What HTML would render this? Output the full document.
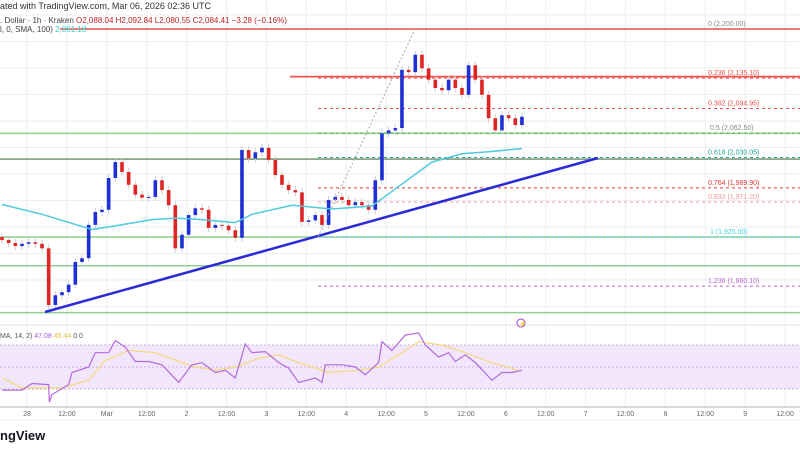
<!DOCTYPE html>
<html><head><meta charset="utf-8">
<style>
html,body{margin:0;padding:0;background:#fff;width:800px;height:450px;overflow:hidden}
svg{display:block;font-family:"Liberation Sans",sans-serif}
</style></head><body>
<svg id="chart" width="800" height="450" viewBox="0 0 800 450">
<g id="grid"></g>
<g id="levels"></g>
<g id="candles"></g>
<g id="overlay"></g>
<g id="rsi"></g>
<g id="axis"></g>
<text x="0" y="9" font-size="9" fill="#333">ated with TradingView.com, Mar 06, 2026 02:36 UTC</text>
<text x="0" y="23" font-size="8" fill="#444">. Dollar · 1h · Kraken  <tspan fill="#b22">O2,088.04  H2,092.84  L2,080.55  C2,084.41  −3.28 (−0.16%)</tspan></text>
<text x="0" y="32" font-size="8" fill="#444">l, 0, SMA, 100)  <tspan fill="#3cc">2,061.18</tspan></text>
<text x="0" y="338" font-size="7" fill="#555">MA, 14, 2)  <tspan fill="#a05ad0">47.08</tspan>  <tspan fill="#e8c040">45.44</tspan>  0  0</text>
<text x="0" y="440" font-size="13" font-weight="bold" fill="#131722">ngView</text>
<g><circle cx="521" cy="323" r="4" fill="none" stroke="#9b3fd0" stroke-width="1"/><text x="519" y="326" font-size="6" fill="#9b3fd0">⚡</text></g>
</svg>
<script>
// ---- data ----
const closes=[1921,1917,1913,1916,1918,1916,1910,1835,1848,1852,1862,1892,1897,1941,1958,1961,2003,2024,2011,1994,1981,1977,1978,2000,1987,1967,1910,1928,1954,1963,1961,1937,1941,1940,1934,1924,2040,2029,2037,2043,2027,2007,1994,1987,1984,1945,1947,1954,1941,1974,1978,1974,1967,1971,1967,1961,2000,2062,2066,2069,2146,2143,2166,2148,2133,2122,2119,2133,2122,2113,2152,2133,2113,2082,2066,2086,2082,2073,2084];
const firstOpen=1925;
const smaHours=[0,12,27,33,45,52,60,70,75,87,99,111,120,129,138,147,156];
const smaValues=[1968,1955,1935,1939,1948,1950,1948,1944,1955,1967,1962,1966,1995,2024,2035,2038,2042];
const rsiHours=[0,6,9,14,14.2,15,20,21,26,28,32,34,37,40,44,48,53,57,60,64,67,70,73,75,79,83,86,89,94,96,97,102,106,109,113,114,117,121,125,127,131,134,136,139,142,147,150,153,156];
const rsiValues=[29,29,35,34,18,25,34,45,50,63,63,74,68,55,55,52,36,52,54,45,47,40,71,63,64,54,49,36,40,36,52,52,50,43,54,73,65,79,81,70,59,63,55,61,54,38,45,45,47];
const rsiMaHours=[0,6,18,26,31,38,46,54,58,64,70,77,83,89,98,107,113,119,125,132,138,146,155];
const rsiMaValues=[40,31,31,38,56,65,63,54,50,47,50,58,61,54,45,47,50,61,73,70,64,55,47];
const fibRatios=[0,0.236,0.382,0.5,0.618,0.764,0.832,1,1.236];
const fibLabels=["0 (2,200.00)","0.236 (2,135.10)","0.382 (2,094.95)","0.5 (2,062.50)","0.618 (2,030.05)","0.764 (1,989.90)","0.832 (1,971.20)","1 (1,925.00)","1.236 (1,860.10)"];
const supportPrices=[2062,2028,1925,1887,1825];
const dayLabels=["28","12:00","Mar","12:00","2","12:00","3","12:00","4","12:00","5","12:00","6","12:00","7","12:00","8","12:00","9","12:00"];
// ---- scales ----
const fibHigh=2200, fibLow=1925;
const py=p=>29+(fibHigh-p)*208/(fibHigh-fibLow);
const hx=h=>2+h*3.333;
const ry=v=>367-(v-50)*1.1;
const NS="http://www.w3.org/2000/svg";
function mk(parent,tag,attrs){const e=document.createElementNS(NS,tag);for(const k in attrs)e.setAttribute(k,attrs[k]);parent.appendChild(e);return e;}
const grid=document.getElementById('grid');
for(let i=0;i<20;i++){const x=27+i*39.9;
 const l=mk(grid,'line',{x1:x,y1:0,x2:x,y2:407,stroke:'#eceef2','stroke-width':1});
 }
for(let y=15;y<325;y+=26.5){const l=mk(grid,'line',{x1:0,y1:y,x2:800,y2:y,stroke:'#eceef2','stroke-width':1});
 }
const lv=document.getElementById('levels');
// red resistance lines
let r1=mk(lv,'line',{x1:60,y1:py(2200),x2:800,y2:py(2200),stroke:'#e0302a','stroke-width':1.3});

let r2=mk(lv,'line',{x1:290,y1:py(2137),x2:800,y2:py(2137),stroke:'#ef5350','stroke-width':1.8});

supportPrices.forEach((p,i)=>{const l=mk(lv,'line',{x1:0,y1:py(p),x2:800,y2:py(p),stroke:i==1?'#6a8a6a':'#8fcf8f','stroke-width':1.4});
 });
const fibColors=['#999','#ef5350','#ef5350','#4caf50','#26a69a','#e53935','#ef9a9a','#4dd0e1','#ba68c8'];
fibRatios.forEach((r,i)=>{const y=29+r*208;
 if(i>0){const l=mk(lv,'line',{x1:318,y1:y,x2:800,y2:y,stroke:fibColors[i],'stroke-width':1,'stroke-dasharray':'3,3'});
 }
 const t=mk(lv,'text',{x:i==4?708:(i==7||i==3?710:708),y:y-3,'font-size':7,fill:i==0||i==3?'#888':fibColors[i]});
 t.textContent=fibLabels[i];
 });
// candles
const cg=document.getElementById('candles');
let prev=firstOpen;
closes.forEach((c,i)=>{const x=hx(i*2),o=prev,up=c>=o,col=up?'#1e2fd6':'#e02424';
 const top=py(Math.max(o,c)),bot=py(Math.min(o,c));
 const w=mk(cg,'line',{x1:x,y1:top-4,x2:x,y2:bot+4,stroke:'#c9ccd4','stroke-width':1});
 
 const r=mk(cg,'rect',{x:x-1.8,y:top,width:3.6,height:Math.max(1,bot-top),fill:col});
 
 prev=c;});
// overlays
const ov=document.getElementById('overlay');
const sma=mk(ov,'polyline',{points:smaHours.map((h,i)=>hx(h)+','+py(smaValues[i])).join(' '),fill:'none',stroke:'#4fc9e0','stroke-width':1.5});

const tl=mk(ov,'line',{x1:45,y1:312,x2:598,y2:158,stroke:'#2a2ad8','stroke-width':2.5});

const fl=mk(ov,'line',{x1:318,y1:py(fibLow),x2:415,y2:py(fibHigh),stroke:'#aaa','stroke-width':1,'stroke-dasharray':'2,2'});

// RSI panel
const rg=document.getElementById('rsi');
const sep=mk(rg,'line',{x1:0,y1:325,x2:800,y2:325,stroke:'#e0e3eb','stroke-width':1});

const band=mk(rg,'rect',{x:0,y:ry(70),width:800,height:ry(30)-ry(70),fill:'#f2e6fd'});

[70,50,30].forEach(v=>{const l=mk(rg,'line',{x1:0,y1:ry(v),x2:800,y2:ry(v),stroke:'#c9b3dc','stroke-width':1,'stroke-dasharray':'2,2'});
 });
const rma=mk(rg,'polyline',{points:rsiMaHours.map((h,i)=>hx(h)+','+ry(rsiMaValues[i])).join(' '),fill:'none',stroke:'#f5d97a','stroke-width':1.2});

const rl=mk(rg,'polyline',{points:rsiHours.map((h,i)=>hx(h)+','+ry(rsiValues[i])).join(' '),fill:'none',stroke:'#b36ad8','stroke-width':1.2});

// x axis
const ax=document.getElementById('axis');
const al=mk(ax,'line',{x1:0,y1:407,x2:800,y2:407,stroke:'#b2b5be','stroke-width':1});

const al2=mk(ax,'line',{x1:0,y1:420,x2:800,y2:420,stroke:'#eceef2','stroke-width':1});

dayLabels.forEach((s,i)=>{const t=mk(ax,'text',{x:27+i*39.9,y:416,'font-size':7,fill:'#666','text-anchor':'middle'});
 t.textContent=s;});
</script>
</body></html>
